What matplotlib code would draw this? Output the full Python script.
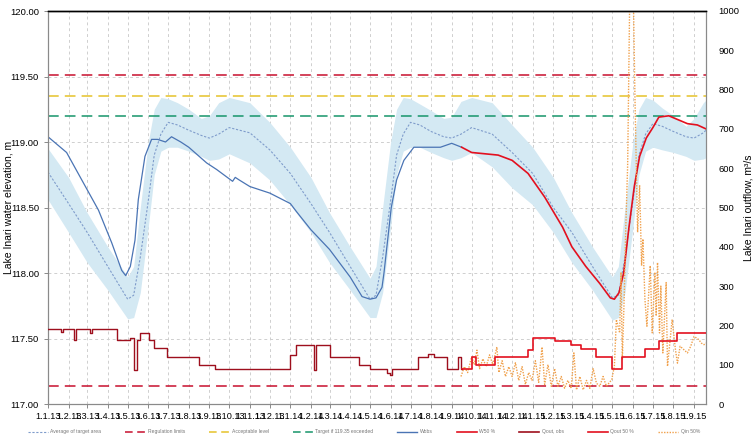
#Lake Inari water level and outflow chart
import numpy as np
import pandas as pd
import matplotlib
matplotlib.use("Agg")
import matplotlib.pyplot as plt
import matplotlib.dates as mdates
from matplotlib.lines import Line2D
from matplotlib.ticker import FuncFormatter, MultipleLocator

#Target area (left axis, m)
target_dates = ["2013-01-01", "2013-02-01", "2013-03-01", "2013-04-01", "2013-05-01", "2013-05-10",
                "2013-05-20", "2013-06-01", "2013-06-10", "2013-06-20", "2013-07-01", "2013-07-15",
                "2013-08-01", "2013-08-20", "2013-09-01", "2013-09-15", "2013-10-01", "2013-11-01",
                "2013-12-01",
                "2014-01-01", "2014-02-01", "2014-03-01", "2014-04-01", "2014-05-01", "2014-05-10",
                "2014-05-20", "2014-06-01", "2014-06-10", "2014-06-20", "2014-07-01", "2014-07-15",
                "2014-08-01", "2014-08-20", "2014-09-01", "2014-09-15", "2014-10-01", "2014-11-01",
                "2014-12-01",
                "2015-01-01", "2015-02-01", "2015-03-01", "2015-04-01", "2015-05-01", "2015-05-10",
                "2015-05-20", "2015-06-01", "2015-06-10", "2015-06-20", "2015-07-01", "2015-07-15",
                "2015-08-01", "2015-08-20", "2015-09-01", "2015-09-15", "2015-09-19"]
target_top = [118.95, 118.73, 118.46, 118.20, 117.97, 118.05,
              118.50, 119.00, 119.25, 119.34, 119.33, 119.30,
              119.25, 119.18, 119.20, 119.30, 119.34, 119.30,
              119.15,
              118.96, 118.73, 118.46, 118.20, 117.96, 118.05,
              118.50, 119.00, 119.25, 119.34, 119.33, 119.29,
              119.24, 119.18, 119.19, 119.31, 119.34, 119.30,
              119.13,
              118.96, 118.73, 118.46, 118.20, 117.97, 118.05,
              118.50, 119.00, 119.25, 119.34, 119.32, 119.26,
              119.20, 119.12, 119.18, 119.30, 119.32]
target_avg = [118.77, 118.53, 118.31, 118.05, 117.80, 117.83,
              118.12, 118.55, 118.90, 119.06, 119.15, 119.13,
              119.09, 119.05, 119.03, 119.06, 119.11, 119.07,
              118.94,
              118.76, 118.53, 118.31, 118.05, 117.80, 117.83,
              118.12, 118.55, 118.90, 119.06, 119.15, 119.13,
              119.08, 119.04, 119.03, 119.06, 119.11, 119.06,
              118.92,
              118.76, 118.50, 118.31, 118.05, 117.81, 117.83,
              118.12, 118.55, 118.90, 119.06, 119.14, 119.12,
              119.08, 119.04, 119.03, 119.07, 119.09]
target_bot = [118.56, 118.31, 118.08, 117.87, 117.65, 117.66,
              117.85, 118.35, 118.75, 118.93, 118.96, 118.96,
              118.93, 118.89, 118.86, 118.87, 118.91, 118.84,
              118.71,
              118.52, 118.31, 118.08, 117.87, 117.66, 117.66,
              117.85, 118.35, 118.75, 118.93, 118.96, 118.96,
              118.92, 118.88, 118.86, 118.88, 118.92, 118.81,
              118.65,
              118.52, 118.31, 118.08, 117.87, 117.64, 117.66,
              117.85, 118.35, 118.75, 118.93, 118.96, 118.94,
              118.92, 118.89, 118.86, 118.87, 118.88]

#Observed water level
wobs_dates = ["2013-01-01", "2013-01-29", "2013-03-18", "2013-04-07", "2013-04-22", "2013-04-28",
              "2013-05-05", "2013-05-12", "2013-05-17", "2013-05-27", "2013-06-06", "2013-06-15",
              "2013-06-27", "2013-07-06", "2013-07-20", "2013-08-01", "2013-08-28", "2013-09-12",
              "2013-10-06", "2013-10-10", "2013-10-16", "2013-11-01", "2013-12-01", "2014-01-01",
              "2014-01-10", "2014-02-01", "2014-03-01", "2014-04-01", "2014-04-19", "2014-05-01",
              "2014-05-10", "2014-05-19", "2014-05-22", "2014-06-02", "2014-06-10", "2014-06-21",
              "2014-07-06", "2014-07-20", "2014-08-15", "2014-09-01", "2014-09-16"]
wobs = [119.04, 118.92, 118.48, 118.23, 118.02, 117.98,
        118.05, 118.25, 118.56, 118.89, 119.02, 119.02,
        119.00, 119.04, 119.00, 118.96, 118.84, 118.79,
        118.70, 118.73, 118.71, 118.66, 118.61, 118.53,
        118.47, 118.33, 118.18, 117.97, 117.82, 117.80,
        117.81, 117.89, 118.00, 118.50, 118.71, 118.86,
        118.96, 118.96, 118.96, 118.99, 118.96]

#Forecast water level, 50 %
w50_dates = ["2014-09-16", "2014-10-01", "2014-10-21", "2014-11-10", "2014-12-01", "2014-12-25",
             "2015-01-19", "2015-02-15", "2015-03-01", "2015-03-22", "2015-04-12", "2015-04-28",
             "2015-05-04", "2015-05-11", "2015-05-18", "2015-05-26", "2015-06-03", "2015-06-11",
             "2015-06-21", "2015-07-01", "2015-07-10", "2015-07-25", "2015-08-22", "2015-09-06",
             "2015-09-19"]
w50 = [118.96, 118.92, 118.91, 118.90, 118.86, 118.76,
       118.58, 118.35, 118.20, 118.05, 117.92, 117.81,
       117.80, 117.85, 118.00, 118.35, 118.66, 118.89,
       119.03, 119.11, 119.19, 119.20, 119.14, 119.13,
       119.10]

#Observed outflow (right axis, m3/s)
qobs_dates = ["2013-01-01", "2013-01-21", "2013-01-24", "2013-02-09", "2013-02-12", "2013-03-05",
              "2013-03-08", "2013-04-15", "2013-05-04", "2013-05-10", "2013-05-15", "2013-05-20",
              "2013-06-02", "2013-06-09", "2013-06-29", "2013-08-17", "2013-09-09", "2014-01-01",
              "2014-01-10", "2014-02-05", "2014-02-09", "2014-03-01", "2014-04-15", "2014-05-01",
              "2014-05-27", "2014-05-31", "2014-06-03", "2014-07-13", "2014-07-28", "2014-08-05",
              "2014-08-25", "2014-09-10", "2014-09-15", "2014-09-17"]
qobs = [190, 183, 190, 163, 190, 180,
        190, 163, 168, 87, 163, 180,
        163, 142, 119, 99, 89, 125,
        150, 87, 150, 120, 99, 89,
        79, 74, 89, 120, 126, 120,
        89, 120, 89, 89]

#Forecast outflow, 50 %
q50_dates = ["2014-09-17", "2014-10-01", "2014-10-08", "2014-11-05", "2014-12-25", "2015-01-01",
             "2015-02-03", "2015-02-27", "2015-03-15", "2015-04-06", "2015-04-30", "2015-05-16",
             "2015-06-19", "2015-07-10", "2015-08-06", "2015-09-19"]
q50 = [89, 120, 99, 120, 137, 168,
       160, 150, 140, 120, 88, 120,
       140, 160, 180, 180]

#Forecast inflow, 50 %
qin_dates = ["2014-09-15", "2014-09-20", "2014-09-25", "2014-10-01", "2014-10-05", "2014-10-09",
             "2014-10-13", "2014-10-18", "2014-10-23", "2014-10-28", "2014-11-02", "2014-11-08",
             "2014-11-11", "2014-11-16", "2014-11-21", "2014-11-26", "2014-12-01", "2014-12-06",
             "2014-12-11", "2014-12-16", "2014-12-21", "2014-12-26", "2014-12-31", "2015-01-05",
             "2015-01-10", "2015-01-15", "2015-01-19", "2015-01-24", "2015-01-29", "2015-02-03",
             "2015-02-08", "2015-02-13", "2015-02-18", "2015-02-23", "2015-02-28", "2015-03-04",
             "2015-03-08", "2015-03-13", "2015-03-18", "2015-03-23", "2015-03-28", "2015-04-02",
             "2015-04-07", "2015-04-12", "2015-04-17", "2015-04-22", "2015-04-30", "2015-05-04",
             "2015-05-07", "2015-05-12", "2015-05-14", "2015-05-16", "2015-05-19", "2015-05-21",
             "2015-05-24", "2015-05-26", "2015-05-28", "2015-05-30", "2015-06-01", "2015-06-04",
             "2015-06-06", "2015-06-08", "2015-06-11", "2015-06-14", "2015-06-16", "2015-06-19",
             "2015-06-22", "2015-06-27", "2015-06-30", "2015-07-04", "2015-07-06", "2015-07-08",
             "2015-07-11", "2015-07-13", "2015-07-16", "2015-07-21", "2015-07-23", "2015-07-30",
             "2015-08-04", "2015-08-07", "2015-08-11", "2015-08-22", "2015-08-27", "2015-09-01",
             "2015-09-08", "2015-09-12", "2015-09-16", "2015-09-19"]
qin = [70, 95, 80, 120, 100, 137,
       90, 115, 95, 125, 100, 145,
       80, 110, 70, 95, 70, 105,
       60, 95, 50, 80, 60, 110,
       55, 145, 50, 100, 45, 90,
       45, 70, 40, 60, 40, 130,
       36, 70, 36, 60, 40, 90,
       53, 45, 70, 45, 62, 96,
       215, 181, 335, 113, 284, 437,
       608, 880, 1150, 1200, 1100, 780,
       608, 437, 557, 352, 420, 267,
       198, 352, 181, 335, 224, 360,
       181, 300, 130, 309, 96, 215,
       138, 104, 147, 130, 147, 172,
       164, 155, 151, 155]

#Reference levels (m)
reg_limits = [119.51, 117.14]
acceptable_level = 119.35
target_level = 119.2

legend_labels = ["Average of target area", "Regulation limits", "Acceptable level",
                 "Target if 119.35 exceeded", "Wobs", "W50 %", "Qout, obs", "Qout 50 %", "Qin 50%"]

#Colours
c_band = "#d4e9f3"
c_avg = "#7f9ccb"
c_reg = "#c8102e"
c_acc = "#e6c229"
c_tgt = "#16956a"
c_wobs = "#4a74b4"
c_w50 = "#e3101f"
c_qobs = "#9e0f1d"
c_q50 = "#e3101f"
c_qin = "#f0a04b"


def to_dates(lst):
    return pd.to_datetime(lst)


def fmt_date(x, pos):
    d = mdates.num2date(x)
    return "%d.%d.%02d" % (d.day, d.month, d.year % 100)


def main():
    plt.rcParams['font.family'] = ['Liberation Sans', 'DejaVu Sans']
    fig = plt.figure(figsize=(7.55, 4.48), dpi=100)
    ax = fig.add_axes([48/755, 1-404/448, (706-48)/755, (404-11)/448])
    ax2 = ax.twinx()

    td = to_dates(target_dates)
    ax.fill_between(td, target_bot, target_top, color=c_band, lw=0, zorder=1)
    ax.plot(td, target_avg, color=c_avg, lw=0.8, dashes=(2, 1.5), zorder=3)

    dash = (7, 4)
    for lvl in reg_limits:
        ax.axhline(lvl, color=c_reg, lw=1.1, dashes=dash, zorder=2)
    ax.axhline(acceptable_level, color=c_acc, lw=1.1, dashes=dash, zorder=2)
    ax.axhline(target_level, color=c_tgt, lw=1.1, dashes=dash, zorder=2)

    ax.plot(to_dates(wobs_dates), wobs, color=c_wobs, lw=0.9, zorder=4)
    ax.plot(to_dates(w50_dates), w50, color=c_w50, lw=1.2, zorder=4)

    ax2.plot(to_dates(qin_dates), qin, color=c_qin, lw=1.0, ls=(0, (1, 1)), zorder=2)
    ax2.plot(to_dates(qobs_dates), qobs, color=c_qobs, lw=1.0, drawstyle="steps-post", zorder=3)
    ax2.plot(to_dates(q50_dates), q50, color=c_q50, lw=1.2, drawstyle="steps-post", zorder=3)

    ax.set_xlim(pd.Timestamp("2013-01-01"), pd.Timestamp("2015-09-19"))
    ax.set_ylim(117, 120)
    ax2.set_ylim(0, 1000)

    ax.xaxis.set_major_locator(mdates.MonthLocator())
    ax.xaxis.set_major_formatter(FuncFormatter(fmt_date))
    ax.yaxis.set_major_locator(MultipleLocator(0.5))
    ax.yaxis.set_major_formatter(FuncFormatter(lambda v, p: "%.2f" % v))
    ax2.yaxis.set_major_locator(MultipleLocator(100))

    ax.grid(True, color="#cfcfcf", lw=0.7, dashes=(3, 3))
    ax.set_axisbelow(True)

    for a in (ax, ax2):
        for s in ("left", "right", "bottom"):
            a.spines[s].set_color("#8a8a8a")
            a.spines[s].set_linewidth(0.8)
        a.spines["top"].set_color("black")
        a.spines["top"].set_linewidth(1.0)
        a.tick_params(colors="#8a8a8a", labelcolor="black", labelsize=6.8, length=3, width=0.7)
    ax.tick_params(axis="x", labelsize=6.6, pad=3)
    ax2.tick_params(axis="y", length=0, pad=9)

    ax.set_ylabel("Lake Inari water elevation, m", fontsize=7.5)
    ax.yaxis.set_label_coords(-0.053, 0.5)
    ax2.set_ylabel("Lake Inari outflow, m\u00b3/s", fontsize=7.5)
    ax2.yaxis.set_label_coords(1.057, 0.5)

    handles = [Line2D([], [], color=c_avg, lw=0.8, dashes=(2, 1.5)),
               Line2D([], [], color=c_reg, lw=1.1, dashes=(5, 3)),
               Line2D([], [], color=c_acc, lw=1.1, dashes=(5, 3)),
               Line2D([], [], color=c_tgt, lw=1.1, dashes=(5, 3)),
               Line2D([], [], color=c_wobs, lw=1.0),
               Line2D([], [], color=c_w50, lw=1.2),
               Line2D([], [], color=c_qobs, lw=1.2),
               Line2D([], [], color=c_q50, lw=1.2),
               Line2D([], [], color=c_qin, lw=1.0, ls=(0, (1, 1)))]
    leg = fig.legend(handles, legend_labels, loc="center", bbox_to_anchor=(0.482, 0.036), ncol=9,
                     fontsize=3.6, frameon=False, handlelength=4.0, columnspacing=4.8, handletextpad=0.5)
    for t in leg.get_texts():
        t.set_color("#777777")

    fig.savefig("out.png", dpi=100)


if __name__ == "__main__":
    main()
